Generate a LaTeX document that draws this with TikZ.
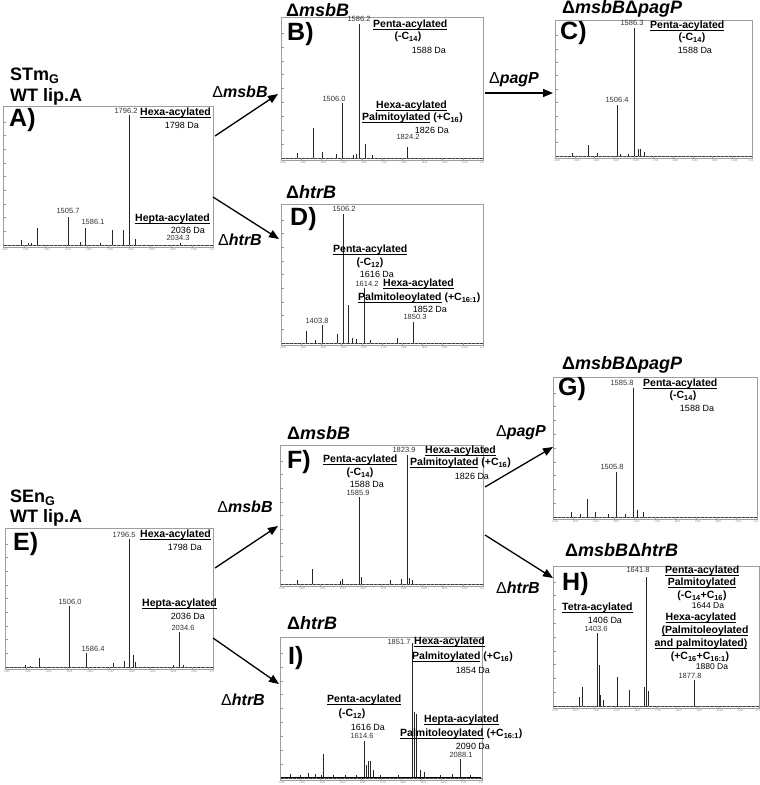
\documentclass[tikz,border=0pt]{standalone}
\usepackage{fontspec}
\setmainfont{Liberation Sans}
\usetikzlibrary{arrows.meta}
\newcommand\fs[1]{\fontsize{#1}{#1}\selectfont}
\newcommand\sbs[1]{\textsubscript{#1}}
\newsavebox\ulbox
\newcommand\uln[1]{\sbox\ulbox{#1}\rlap{\rule[-2pt]{\wd\ulbox}{0.85pt}}\usebox\ulbox}
\definecolor{boxgray}{gray}{0.62}
\tikzset{
  panelbox/.style={draw=boxgray, line width=0.7pt, inner sep=0pt, outer sep=0pt},
  axtick/.style={draw=gray!80, line width=0.35pt},
  basel/.style={draw=black!75, line width=0.5pt},
  peak/.style={draw=black!85, line width=0.65pt},
  title/.style={font=\fs{18}\bfseries\itshape, anchor=west, inner sep=0pt},
  strain/.style={font=\fs{18}\bfseries, anchor=west, inner sep=0pt},
  plet/.style={font=\fs{25}\bfseries, anchor=west, inner sep=0pt},
  acyl/.style={font=\fs{10.5}\bfseries, inner sep=0pt},
  da/.style={font=\fs{9}, inner sep=0pt},
  pkl/.style={font=\fs{7.5}, inner sep=0pt, text=black!80},
  axl/.style={font=\fs{2.6}, inner sep=0pt, text=gray},
  arrlbl/.style={font=\fs{16}\bfseries\itshape, inner sep=0pt},
  arr/.style={line width=1.3pt, -{Triangle[length=10pt,width=8pt]}}
}
% #1 left, #2 top, #3 right, #4 bottom, #5 name
\newcommand\specpanel[5]{%
  \node[panelbox, anchor=north west, minimum width={#3pt-#1pt}, minimum height={#4pt-#2pt}] (#5) at (#1,#2) {};
  \draw[basel] (#1,#4-2) -- (#3,#4-2);
  \foreach \k in {0,...,50} {\draw[axtick] ({#1+\k*(#3-#1)/50},#4-2) -- ++(0,1.2);}
  \foreach \k in {0,...,10} {\draw[axtick] ({#1+\k*(#3-#1)/10},#4-2) -- ++(0,2.2);}
  \foreach \k/\t in {0/1200,1/1300,2/1400,3/1500,4/1600,5/1700,6/1800,7/1900,8/2000,9/2100}
    {\node[axl] (#5-t\k) at ({#1+2+\k*(#3-#1)/10},#4+2.5) {\t};}
  \node[axl] (#5-t10) at (#3-1,#4+2.5) {m/z};
  \foreach \k in {1,...,9} {\draw[axtick] (#1,{#4-2-\k*(#4-#2-4)/10}) -- ++(2.5,0);}
}
\begin{document}
\begin{tikzpicture}[x=1pt,y=-1pt]
\fill[white] (0,0) rectangle (760,785);
\useasboundingbox (0,0) rectangle (760,785);

% ================= Panel A =================
\node[strain] (stm) at (10,76) {STm\sbs{G}};
\node[strain] (wta) at (10,97) {WT lip.A};
\specpanel{3}{106}{213}{247}{A}
\foreach \x/\t in {21/240,28/243,31/243,37/228,68/217,80/242,85/228,100/243,112/230,123/230,129/115,135/239,180/243}
  \draw[peak] (\x,245) -- (\x,\t);
\node[plet] (A-let) at (9,120) {A)};
\node[pkl] (A-p1) at (126,111) {1796.2};
\node[acyl,anchor=west] (A-hexa) at (140,113) {\uln{Hexa-acylated}};
\node[da] (A-hexad) at (182,125) {1798 Da};
\node[pkl] (A-p2) at (68,211) {1505.7};
\node[pkl] (A-p3) at (93,222) {1586.1};
\node[acyl,anchor=west] (A-hepta) at (135,219) {\uln{Hepta-acylated}};
\node[da] (A-heptad) at (188,230) {2036 Da};
\node[pkl] (A-p4) at (178,238) {2034.3};

% ================= Panel B =================
\node[title] (B-title) at (286,10) {{\upshape Δ}msbB};
\specpanel{281}{17}{483}{160}{B}
\foreach \x/\t in {297/153,313/128,322/152,336/154,342/103,353/155,356/154,359/24,365/144,372/155,407/147}
  \draw[peak] (\x,158) -- (\x,\t);
\node[plet] (B-let) at (287,34) {B)};
\node[pkl] (B-p1) at (359,19) {1586.2};
\node[acyl,anchor=west] (B-penta) at (373,25) {\uln{Penta-acylated}};
\node[acyl] (B-c14) at (408,37) {(-C\sbs{14})};
\node[da] (B-pentad) at (429,50) {1588 Da};
\node[pkl] (B-p2) at (334,99) {1506.0};
\node[acyl,anchor=west] (B-hexa) at (376,106) {\uln{Hexa-acylated}};
\node[acyl,anchor=west] (B-palm) at (362,118) {\uln{Palmitoylated} (+C\sbs{16})};
\node[da] (B-hexad) at (432,130) {1826 Da};
\node[pkl] (B-p3) at (408,137) {1824.2};

% ================= Panel C =================
\node[title] (C-title) at (562,9) {{\upshape Δ}msbB{\upshape Δ}pagP};
\specpanel{555}{20}{752}{158}{C}
\foreach \x/\t in {572/153,588/145,597/153,617/105,620/154,628/154,634/28,638/149,640/149,644/152}
  \draw[peak] (\x,156) -- (\x,\t);
\node[plet] (C-let) at (560,33) {C)};
\node[pkl] (C-p1) at (632,23) {1586.3};
\node[acyl,anchor=west] (C-penta) at (650,26) {\uln{Penta-acylated}};
\node[acyl] (C-c14) at (692,38) {(-C\sbs{14})};
\node[da] (C-pentad) at (695,50) {1588 Da};
\node[pkl] (C-p2) at (617,100) {1506.4};

% ================= Panel D =================
\node[title] (D-title) at (286,192) {{\upshape Δ}htrB};
\specpanel{281}{204}{483}{345}{D}
\foreach \x/\t in {306/331,315/340,322/325,337/334,343/214,348/305,352/338,356/339,364/288,370/340,397/338,413/322}
  \draw[peak] (\x,343) -- (\x,\t);
\node[plet] (D-let) at (290,219) {D)};
\node[pkl] (D-p1) at (344,209) {1506.2};
\node[acyl,anchor=west] (D-penta) at (333,250) {\uln{Penta-acylated}};
\node[acyl] (D-c12) at (370,263) {(-C\sbs{12})};
\node[da] (D-pentad) at (377,274) {1616 Da};
\node[pkl] (D-p2) at (367,284) {1614.2};
\node[acyl,anchor=west] (D-hexa) at (383,284) {\uln{Hexa-acylated}};
\node[acyl,anchor=west] (D-palm) at (358,298) {\uln{Palmitoleoylated} (+C\sbs{16:1})};
\node[da] (D-hexad) at (430,309) {1852 Da};
\node[pkl] (D-p3) at (415,317) {1850.3};
\node[pkl] (D-p4) at (317,321) {1403.8};

% ================= Panel E =================
\node[strain] (sen) at (10,498) {SEn\sbs{G}};
\node[strain] (wte) at (10,518) {WT lip.A};
\specpanel{5}{528}{213}{669}{E}
\foreach \x/\t in {25/665,30/666,39/658,69/606,86/653,113/663,124/661,129/539,133/655,135/662,173/665,179/632,183/665}
  \draw[peak] (\x,667) -- (\x,\t);
\node[plet] (E-let) at (13,544) {E)};
\node[pkl] (E-p1) at (124,535) {1796.5};
\node[acyl,anchor=west] (E-hexa) at (140,535) {\uln{Hexa-acylated}};
\node[da] (E-hexad) at (185,547) {1798 Da};
\node[pkl] (E-p2) at (70,602) {1506.0};
\node[pkl] (E-p3) at (93,649) {1586.4};
\node[acyl,anchor=west] (E-hepta) at (142,604) {\uln{Hepta-acylated}};
\node[da] (E-heptad) at (188,616) {2036 Da};
\node[pkl] (E-p4) at (183,628) {2034.6};

% ================= Panel F =================
\node[title] (F-title) at (287,433) {{\upshape Δ}msbB};
\specpanel{280}{445}{483}{586}{F}
\foreach \x/\t in {297/580,312/569,340/581,342/579,359/497,361/577,390/580,401/579,407/455,409/578,412/580}
  \draw[peak] (\x,584) -- (\x,\t);
\node[plet] (F-let) at (287,462) {F)};
\node[acyl,anchor=west] (F-penta) at (323,460) {\uln{Penta-acylated}};
\node[acyl] (F-c14) at (360,473) {(-C\sbs{14})};
\node[da] (F-pentad) at (367,484) {1588 Da};
\node[pkl] (F-p1) at (358,493) {1585.9};
\node[pkl] (F-p2) at (404,450) {1823.9};
\node[acyl,anchor=west] (F-hexa) at (425,451) {\uln{Hexa-acylated}};
\node[acyl,anchor=west] (F-palm) at (410,463) {\uln{Palmitoylated} (+C\sbs{16})};
\node[da] (F-hexad) at (472,476) {1826 Da};

% ================= Panel G =================
\node[title] (G-title) at (562,365) {{\upshape Δ}msbB{\upshape Δ}pagP};
\specpanel{553}{377}{757}{519}{G}
\foreach \x/\t in {571/512,580/514,587/499,595/512,608/514,616/472,625/514,633/388,637/510,643/512}
  \draw[peak] (\x,517) -- (\x,\t);
\node[plet] (G-let) at (558,389) {G)};
\node[pkl] (G-p1) at (622,383) {1585.8};
\node[acyl,anchor=west] (G-penta) at (643,384) {\uln{Penta-acylated}};
\node[acyl] (G-c14) at (683,396) {(-C\sbs{14})};
\node[da] (G-pentad) at (697,408) {1588 Da};
\node[pkl] (G-p2) at (612,467) {1505.8};

% ================= Panel H =================
\node[title] (H-title) at (565,550) {{\upshape Δ}msbB{\upshape Δ}htrB};
\specpanel{553}{566}{759}{708}{H}
\foreach \x/\t in {579/697,582/687,597/633,599/665,600/695,603/700,617/677,629/690,644/687,646/577,648/691,694/680}
  \draw[peak] (\x,706) -- (\x,\t);
\node[plet] (H-let) at (562,584) {H)};
\node[pkl] (H-p1) at (638,570) {1641.8};
\node[acyl,anchor=west] (H-penta) at (665,571) {\uln{Penta-acylated}};
\node[acyl] (H-palm) at (702,583) {\uln{Palmitoylated}};
\node[acyl] (H-c) at (702,596) {(-C\sbs{14}+C\sbs{16})};
\node[da,font=\fs{8.5}] (H-pentad) at (708,606) {1644 Da};
\node[acyl] (H-hexa) at (701,618) {\uln{Hexa-acylated}};
\node[acyl] (H-pl1) at (705,631) {\uln{(Palmitoleoylated}};
\node[acyl] (H-pl2) at (701,644) {\uln{and palmitoylated)}};
\node[acyl] (H-c2) at (700,657) {(+C\sbs{16}+C\sbs{16:1})};
\node[da,font=\fs{8.5}] (H-hexad) at (712,667) {1880 Da};
\node[pkl] (H-p2) at (690,676) {1877.8};
\node[acyl,anchor=west] (H-tetra) at (562,608) {\uln{Tetra-acylated}};
\node[da] (H-tetrad) at (605,620) {1406 Da};
\node[pkl] (H-p3) at (596,629) {1403.6};

% ================= Panel I =================
\node[title] (I-title) at (287,623) {{\upshape Δ}htrB};
\specpanel{280}{637}{482}{780}{I}
\draw[draw=black, line width=1.3pt] (281,777.5) -- (481,777.5);
\foreach \x/\t in {290/774,300/775,308/773,315/774,321/775,323/754,333/775,345/775,356/775,364/741,366/765,368/761,370/761,373/770,380/775,398/775,412/643,414/712,416/714,420/770,424/772,440/775,452/774,460/759,470/775}
  \draw[peak] (\x,777) -- (\x,\t);
\node[plet] (I-let) at (288,658) {I)};
\node[pkl] (I-p1) at (399,642) {1851.7};
\node[acyl,anchor=west] (I-hexa) at (414,642) {\uln{Hexa-acylated}};
\node[acyl,anchor=west] (I-palm) at (412,657) {\uln{Palmitoylated} (+C\sbs{16})};
\node[da] (I-hexad) at (473,670) {1854 Da};
\node[acyl,anchor=west] (I-penta) at (327,700) {\uln{Penta-acylated}};
\node[acyl] (I-c12) at (352,714) {(-C\sbs{12})};
\node[da] (I-pentad) at (368,727) {1616 Da};
\node[pkl] (I-p2) at (362,736) {1614.6};
\node[acyl,anchor=west] (I-hepta) at (424,720) {\uln{Hepta-acylated}};
\node[acyl,anchor=west] (I-palm2) at (400,734) {\uln{Palmitoleoylated} (+C\sbs{16:1})};
\node[da] (I-heptad) at (473,746) {2090 Da};
\node[pkl] (I-p3) at (461,755) {2088.1};

% ================= Arrows =================
\coordinate (AB-s) at (215,136); \coordinate (AB-e) at (278,94);
\coordinate (AD-s) at (213,197); \coordinate (AD-e) at (279,239);
\coordinate (BC-s) at (485,93);  \coordinate (BC-e) at (553,93);
\coordinate (EF-s) at (215,568); \coordinate (EF-e) at (278,526);
\coordinate (EI-s) at (213,638); \coordinate (EI-e) at (279,684);
\coordinate (FG-s) at (485,487); \coordinate (FG-e) at (553,447);
\coordinate (FH-s) at (485,535); \coordinate (FH-e) at (553,578);
\draw[arr] (AB-s) -- (AB-e);
\draw[arr] (AD-s) -- (AD-e);
\draw[arr] (BC-s) -- (BC-e);
\draw[arr] (EF-s) -- (EF-e);
\draw[arr] (EI-s) -- (EI-e);
\draw[arr] (FG-s) -- (FG-e);
\draw[arr] (FH-s) -- (FH-e);
\node[arrlbl] (AB-l) at (240,92) {{\mdseries\upshape Δ}msbB};
\node[arrlbl] (AD-l) at (240,240) {{\mdseries\upshape Δ}htrB};
\node[arrlbl] (BC-l) at (514,80) {{\mdseries\upshape Δ}pagP};
\node[arrlbl] (EF-l) at (245,507) {{\mdseries\upshape Δ}msbB};
\node[arrlbl] (EI-l) at (243,700) {{\mdseries\upshape Δ}htrB};
\node[arrlbl] (FG-l) at (521,433) {{\mdseries\upshape Δ}pagP};
\node[arrlbl] (FH-l) at (518,588) {{\mdseries\upshape Δ}htrB};
\end{tikzpicture}
\end{document}
